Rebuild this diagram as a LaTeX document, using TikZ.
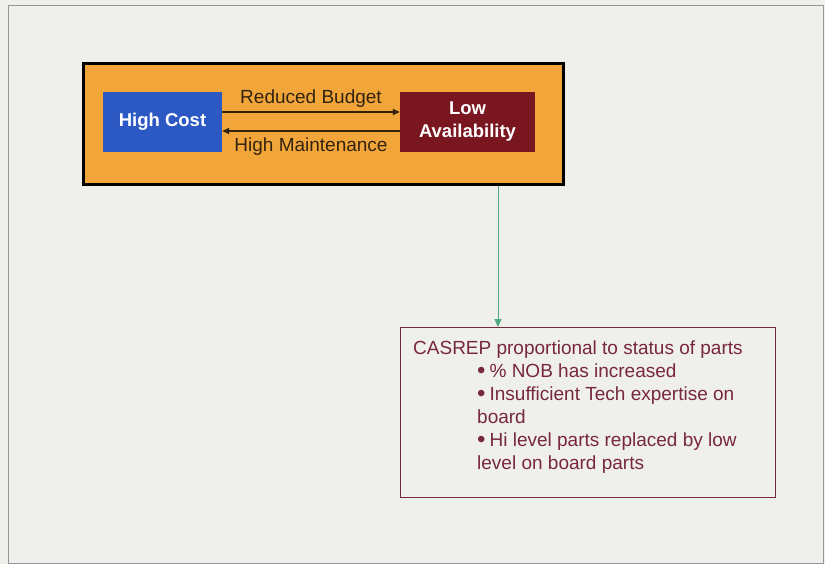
\documentclass[tikz,border=0pt]{standalone}
\usepackage{fontspec}
\setmainfont{Liberation Sans}
\usetikzlibrary{arrows.meta}
\definecolor{bg}{RGB}{239,239,235}
\definecolor{framegray}{RGB}{150,150,150}
\definecolor{panelorange}{RGB}{242,166,58}
\definecolor{costblue}{RGB}{44,88,196}
\definecolor{availred}{RGB}{122,22,32}
\definecolor{linkgreen}{RGB}{80,168,128}
\definecolor{maroon}{RGB}{120,40,60}
\definecolor{darkbrown}{RGB}{50,35,15}
\tikzset{
  txt/.style={font=\fontsize{19}{23}\selectfont},
  keybox/.style={font=\fontsize{18.5}{23}\selectfont\bfseries, text=white, align=center, minimum height=60pt, inner sep=0pt},
  link/.style={draw=darkbrown, line width=1.6pt, -{Triangle[length=7pt,width=6pt]}},
  linklabel/.style={txt, text=darkbrown, inner sep=1pt}
}
\newcommand{\mybul}{{\fontsize{24}{24}\selectfont\raisebox{-1pt}{\textbullet}}\hspace{4pt}}
\begin{document}
\begin{tikzpicture}[x=1pt,y=-1pt]
\useasboundingbox (0,0) rectangle (825,564);
\fill[bg] (0,0) rectangle (825,564);
\draw[framegray, line width=1pt] (8,6) rectangle (823,563);
% panel
\node[draw=black, line width=3pt, fill=panelorange, minimum width=480pt, minimum height=121pt, inner sep=0pt, anchor=north west] (panel) at (82,62) {};
\node[keybox, fill=costblue, minimum width=119pt] (cost) at (162.5,122) {High Cost};
\node[keybox, fill=availred, minimum width=135pt] (avail) at (467.5,122) {Low\\Availability};
\draw[link] ([yshift=10pt]cost.east) -- node[linklabel, above=3pt] {Reduced Budget} ([yshift=10pt]avail.west);
\draw[link] ([yshift=-9pt]avail.west) -- node[linklabel, below=5pt] {High Maintenance} ([yshift=-9pt]cost.east);
% CASREP box
\node[draw=maroon, line width=1pt, minimum width=375pt, minimum height=170pt, inner sep=0pt, anchor=north west] (casrep) at (400,327) {};
\node[txt, text=maroon, align=left, inner sep=0pt, anchor=north west] (casreptext) at (413,341)
{CASREP proportional to status of parts\\
\hspace*{64pt}\mybul\% NOB has increased\\
\hspace*{64pt}\mybul Insufficient Tech expertise on\\
\hspace*{64pt}board\\
\hspace*{64pt}\mybul Hi level parts replaced by low\\
\hspace*{64pt}level on board parts};
\coordinate (gx) at (498,0);
\draw[linkgreen, line width=1pt, -{Triangle[length=8pt,width=7pt]}] (panel.south -| gx) -- (casrep.north -| gx);
\end{tikzpicture}
\end{document}
